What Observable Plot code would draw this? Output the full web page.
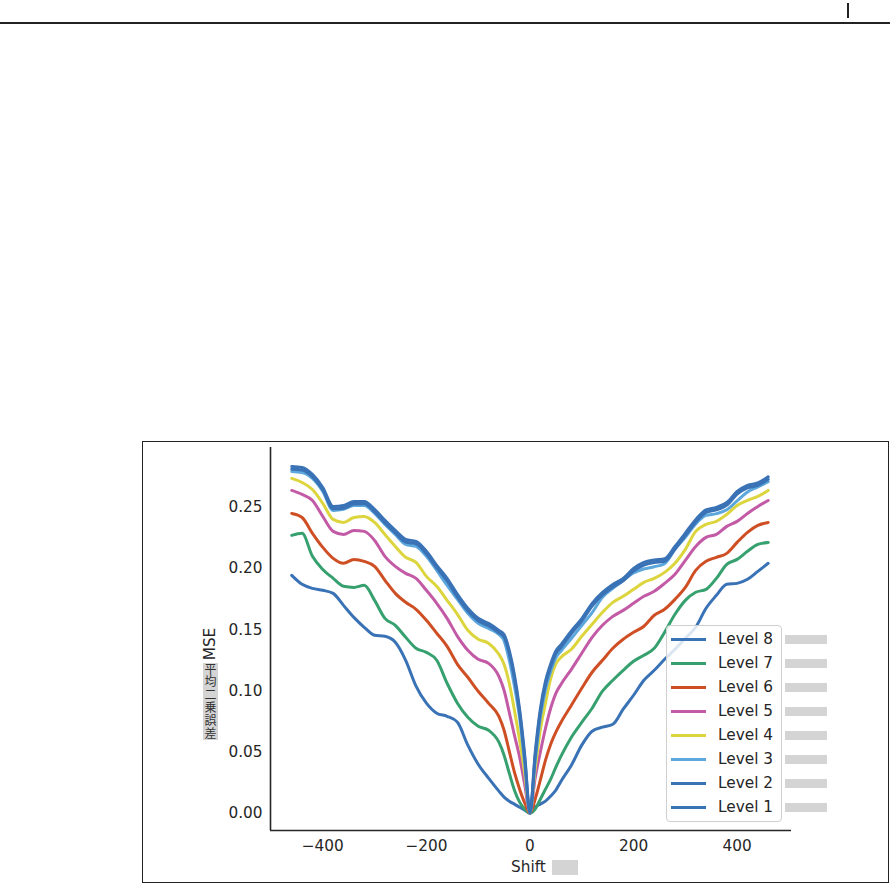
<!DOCTYPE html>
<html>
<head>
<meta charset="utf-8">
<script src="https://cdn.jsdelivr.net/npm/d3@7"></script>
<script src="https://cdn.jsdelivr.net/npm/@observablehq/plot@0.6"></script>
<style>
  body { margin: 0; background: #fff; font-family: "DejaVu Sans", sans-serif; color: #262626; }
  #page { position: relative; width: 890px; height: 884px; overflow: hidden; background: #fff; }
  #topRule { position: absolute; left: 0; top: 22px; width: 890px; height: 1.6px; background: #222; }
  #topBar { position: absolute; left: 847px; top: 3px; width: 1.6px; height: 15px; background: #222; }
  #box { position: absolute; left: 142px; top: 441px; width: 745px; height: 440px; border: 1px solid #222; }
  #chart { position: absolute; left: 0; top: 0; }
  .lbl { position: absolute; font-size: 15.3px; white-space: nowrap; color: #262626; }
  .gray { position: absolute; background: #d4d4d4; }
  #legend { position: absolute; left: 666px; top: 625px; width: 114px; height: 195px;
            border: 1px solid #cfcfcf; border-radius: 4px; background: rgba(255,255,255,0.82); }
  .sw { position: absolute; height: 3px; width: 35px; }
  #jp { position: absolute; left: 203px; top: 663px; width: 15px; height: 77px; background: #d4d4d4;
        writing-mode: vertical-rl; text-orientation: upright; white-space: nowrap;
        font-family: "Noto Sans CJK JP", sans-serif; font-size: 12px; line-height: 15px;
        letter-spacing: 0.8px; color: #333; }
</style>
</head>
<body>
<div id="page">
  <div id="topRule"></div>
  <div id="topBar"></div>
  <div id="box"><div id="chart"></div></div>
  <div class="lbl" id="mse" style="left:209.5px;top:644px;transform:translate(-50%,-50%) rotate(-90deg);">MSE</div>
  <div id="jp"></div>
  <div class="lbl" id="xlab" style="left:511px;top:858px;line-height:18px;">Shift</div>
  <div class="gray" style="left:552px;top:860px;width:26px;height:15px;"></div>
  <div id="legend"></div>
</div>
<script>
// ---- data ----
const shift = [-460,-440,-420,-400,-380,-360,-340,-320,-300,-280,-260,-240,-220,-200,-180,-160,-140,-120,-100,-80,-60,
  -50,-40,-30,-20,-10,0,10,20,30,40,50,
  60,80,100,120,140,160,180,200,220,240,260,280,300,320,340,360,380,400,420,440,460];

const level1 = [.2835,.2827,.2770,.2663,.2508,.2516,.2549,.2549,.2484,.2394,.2312,.2239,.2222,.2141,.2026,.1920,.1789,.1675,.1593,.1552,.1495,
  .1460,.1330,.1130,.0850,.0470,0,.0490,.0850,.1080,.1220,.1326,
  .1378,.1490,.1590,.1715,.1805,.1870,.1920,.2000,.2050,.2070,.2080,.2180,.2290,.2400,.2480,.2500,.2540,.2630,.2680,.2700,.2750];

const level2 = [.2812,.2805,.2749,.2642,.2489,.2494,.2527,.2529,.2463,.2373,.2291,.2217,.2202,.2120,.2005,.1899,.1767,.1654,.1573,.1532,.1475,
  .1440,.1306,.1102,.0822,.0442,0,.0462,.0822,.1052,.1195,.1305,
  .1357,.1469,.1570,.1694,.1784,.1849,.1900,.1979,.2029,.2050,.2060,.2159,.2269,.2379,.2459,.2480,.2519,.2609,.2659,.2680,.2730];

const level3 = [.2794,.2786,.2737,.2631,.2475,.2484,.2516,.2516,.2451,.2361,.2279,.2198,.2181,.2100,.1985,.1862,.1748,.1634,.1552,.1511,.1462,
  .1410,.1250,.1040,.0780,.0400,0,.0420,.0780,.1010,.1160,.1270,
  .1326,.1428,.1534,.1640,.1765,.1838,.1904,.1965,.1997,.2015,.2040,.2158,.2255,.2365,.2435,.2449,.2481,.2554,.2626,.2668,.2710];

const level4 = [.2737,.2704,.2647,.2533,.2402,.2377,.2418,.2426,.2377,.2279,.2181,.2092,.2051,.1936,.1855,.1740,.1626,.1495,.1422,.1389,.1299,
  .1217,.1062,.0842,.0596,.0320,0,.0360,.0680,.0900,.1100,.1220,
  .1275,.1340,.1446,.1544,.1642,.1724,.1773,.1830,.1887,.1920,.1969,.2043,.2157,.2304,.2361,.2386,.2443,.2516,.2557,.2590,.2639];

const level5 = [.2639,.2606,.2557,.2426,.2304,.2279,.2312,.2304,.2230,.2100,.2018,.1961,.1920,.1822,.1716,.1593,.1446,.1332,.1258,.1225,.1119,
  .1005,.0825,.0637,.0458,.0229,0,.0286,.0498,.0694,.0858,.0980,
  .1054,.1176,.1307,.1438,.1536,.1609,.1658,.1716,.1773,.1814,.1879,.1953,.2067,.2181,.2255,.2279,.2345,.2386,.2451,.2508,.2557];

const level6 = [.2451,.2418,.2288,.2173,.2083,.2043,.2075,.2059,.2018,.1904,.1797,.1724,.1667,.1577,.1471,.1364,.1217,.1111,.0997,.0899,.0792,
  .0678,.0507,.0335,.0196,.0082,0,.0114,.0270,.0433,.0564,.0662,
  .0743,.0882,.1021,.1152,.1250,.1348,.1422,.1479,.1528,.1618,.1667,.1748,.1846,.1985,.2059,.2092,.2124,.2214,.2296,.2353,.2377];

const level7 = [.2271,.2288,.2100,.1993,.1920,.1855,.1846,.1863,.1740,.1593,.1536,.1438,.1348,.1315,.1250,.1062,.0899,.0784,.0711,.0678,.0580,
  .0474,.0327,.0188,.0090,.0033,0,.0033,.0114,.0196,.0278,.0376,
  .0466,.0621,.0743,.0858,.0997,.1087,.1168,.1242,.1291,.1348,.1479,.1626,.1740,.1806,.1830,.1920,.2034,.2075,.2141,.2198,.2214];

const level8 = [.1944,.1871,.1838,.1822,.1797,.1699,.1601,.1520,.1454,.1446,.1397,.1250,.1038,.0899,.0817,.0792,.0743,.0556,.0400,.0286,.0180,
  .0131,.0098,.0074,.0049,.0025,0,.0049,.0074,.0098,.0139,.0188,
  .0261,.0392,.0556,.0670,.0703,.0727,.0850,.0964,.1087,.1168,.1258,.1340,.1430,.1520,.1675,.1781,.1871,.1879,.1912,.1977,.2043];

// legend / drawing order (Level 8 first, Level 1 last = on top)
const levelNames  = ["Level 8","Level 7","Level 6","Level 5","Level 4","Level 3","Level 2","Level 1"];
const levelColors = ["#3a72b6","#37a06f","#cf4f25","#c35aa5","#dcd53d","#5ca7dc","#3a72b6","#3a72b6"];
const levelSeries = [level8, level7, level6, level5, level4, level3, level2, level1];

const xTicks = [-400, -200, 0, 200, 400];
const yTicks = [0, 0.05, 0.10, 0.15, 0.20, 0.25];
const xDomain = [-501, 505];
const yDomain = [-0.0142, 0.299];
const yLabelJa = "平均二乗誤差";

// ---- table for Plot ----
const rows = levelNames.flatMap((name, i) =>
  shift.map((s, j) => ({level: name, shift: s, mse: levelSeries[i][j]})));

const chart = Plot.plot({
  width: 745, height: 440,
  marginLeft: 127, marginRight: 97, marginTop: 5, marginBottom: 52,
  style: {fontFamily: "DejaVu Sans, sans-serif", fontSize: "15.3px", color: "#262626", background: "transparent", overflow: "visible"},
  x: {domain: xDomain, label: null},
  y: {domain: yDomain, label: null},
  color: {domain: levelNames, range: levelColors},
  marks: [
    Plot.line(rows, {x: "shift", y: "mse", z: "level", stroke: "level", strokeWidth: 3, curve: "monotone-x"}),
    Plot.axisX({ticks: xTicks, tickSize: 0, tickPadding: 10, tickFormat: d3.format("d"), label: null, fill: "#262626"}),
    Plot.axisY({ticks: yTicks, tickSize: 0, tickPadding: 8, tickFormat: d3.format(".2f"), label: null, fill: "#262626"}),
    Plot.ruleX([xDomain[0]], {stroke: "#262626", strokeWidth: 1.6}),
    Plot.ruleY([yDomain[0]], {stroke: "#262626", strokeWidth: 1.6})
  ]
});
document.getElementById("chart").appendChild(chart);

// ---- vertical Japanese y-label (single text element) ----
document.getElementById("jp").textContent = yLabelJa;

// ---- legend (built from the same arrays) ----
const page = document.getElementById("page");
levelNames.forEach((name, i) => {
  const cy = Math.round(638.5 + i * 24.1);
  const sw = document.createElement("div");
  sw.className = "sw";
  sw.style.left = "671px";
  sw.style.top = (cy - 1.5) + "px";
  sw.style.background = levelColors[i];
  page.appendChild(sw);
  const t = document.createElement("div");
  t.className = "lbl";
  t.style.left = "718px";
  t.style.top = (cy - 9) + "px";
  t.style.lineHeight = "18px";
  t.textContent = name;
  page.appendChild(t);
  const g = document.createElement("div");
  g.className = "gray";
  g.style.left = "785px";
  g.style.top = (cy - 4.5) + "px";
  g.style.width = "42px";
  g.style.height = "9px";
  page.appendChild(g);
});
</script>
</body>
</html>
